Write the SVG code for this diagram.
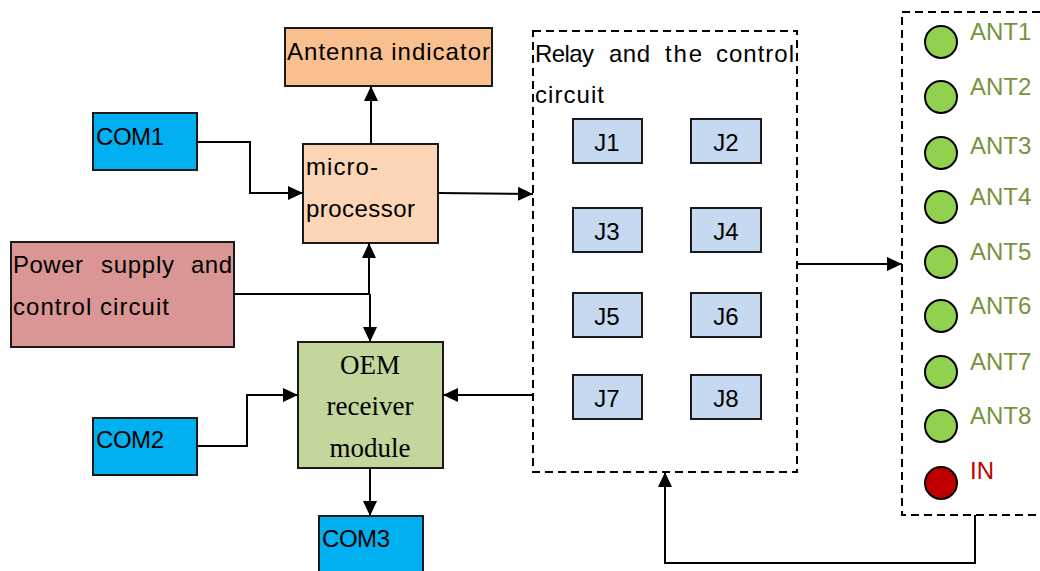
<svg xmlns="http://www.w3.org/2000/svg" width="1040" height="571" viewBox="0 0 1040 571">
<defs>
<marker id="arr" markerUnits="userSpaceOnUse" markerWidth="16" markerHeight="14" refX="15" refY="7" orient="auto">
<path d="M0,0 L15,7 L0,14 z" fill="#000"/>
</marker>
<style>
.box{stroke:#1a1a1a;stroke-width:2}
.t{font-family:"Liberation Sans",Arial,sans-serif;font-size:24px;fill:#000}
.s{font-family:"Liberation Serif","Times New Roman",serif;font-size:27px;fill:#000;text-anchor:middle}
.j{fill:#C6D9F1}
.jt{font-family:"Liberation Sans",Arial,sans-serif;font-size:24px;fill:#000;text-anchor:middle}
.dash{fill:none;stroke:#000;stroke-width:2;stroke-dasharray:8,5}
.led{stroke:#000;stroke-width:2}
.ant{font-family:"Liberation Sans",Arial,sans-serif;font-size:24px;fill:#77933C}
.c{fill:none;stroke:#000;stroke-width:2}
</style>
</defs>
<rect width="1040" height="571" fill="#fff"/>

<g id="antenna-indicator">
<rect class="box" x="285" y="28" width="207" height="58" fill="#F9BF8F"/>
<text class="t" x="287" y="60" textLength="203">Antenna indicator</text>
</g>

<g id="com1">
<rect class="box" x="93" y="113" width="104" height="57" fill="#00B0F0"/>
<text class="t" x="96" y="145" textLength="68">COM1</text>
</g>

<g id="microprocessor">
<rect class="box" x="303" y="144" width="135" height="99" fill="#FBD5B5"/>
<text class="t" x="306" y="175" textLength="72">micro-</text>
<text class="t" x="306" y="217" textLength="109">processor</text>
</g>

<g id="power">
<rect class="box" x="11" y="242" width="223" height="105" fill="#D99694"/>
<text class="t" y="273"><tspan x="13" textLength="70">Power</tspan><tspan x="101" textLength="73">supply</tspan><tspan x="191" textLength="41">and</tspan></text>
<text class="t" x="13" y="315" textLength="156">control circuit</text>
</g>

<g id="oem">
<rect class="box" x="298" y="342" width="145" height="126" fill="#C3D69B"/>
<text class="s" x="370" y="374">OEM</text>
<text class="s" x="370" y="415">receiver</text>
<text class="s" x="370" y="457">module</text>
</g>

<g id="com2">
<rect class="box" x="93" y="418" width="104" height="57" fill="#00B0F0"/>
<text class="t" x="96" y="448" textLength="68">COM2</text>
</g>

<g id="com3">
<rect class="box" x="319" y="516" width="104" height="60" fill="#00B0F0"/>
<text class="t" x="322" y="547" textLength="68">COM3</text>
</g>

<g id="relay">
<rect class="dash" x="533" y="31" width="264" height="441"/>
<text class="t" y="62"><tspan x="535" textLength="59">Relay</tspan><tspan x="609" textLength="41">and</tspan><tspan x="665" textLength="37">the</tspan><tspan x="716" textLength="78">control</tspan></text>
<text class="t" x="535" y="103" textLength="69">circuit</text>
<g id="J1"><rect class="box j" x="573" y="119" width="69" height="44"/><text class="jt" x="607" y="151">J1</text></g>
<g id="J2"><rect class="box j" x="691" y="119" width="70" height="44"/><text class="jt" x="726" y="151">J2</text></g>
<g id="J3"><rect class="box j" x="573" y="208" width="69" height="44"/><text class="jt" x="607" y="240">J3</text></g>
<g id="J4"><rect class="box j" x="691" y="208" width="70" height="44"/><text class="jt" x="726" y="240">J4</text></g>
<g id="J5"><rect class="box j" x="573" y="293" width="69" height="44"/><text class="jt" x="607" y="325">J5</text></g>
<g id="J6"><rect class="box j" x="691" y="293" width="70" height="44"/><text class="jt" x="726" y="325">J6</text></g>
<g id="J7"><rect class="box j" x="573" y="375" width="69" height="44"/><text class="jt" x="607" y="407">J7</text></g>
<g id="J8"><rect class="box j" x="691" y="375" width="70" height="44"/><text class="jt" x="726" y="407">J8</text></g>
</g>

<g id="antenna-panel">
<rect class="dash" x="902" y="12" width="160" height="503"/>
<circle class="led" cx="941" cy="42" r="16" fill="#92D050"/>
<circle class="led" cx="941" cy="97" r="16" fill="#92D050"/>
<circle class="led" cx="941" cy="153" r="16" fill="#92D050"/>
<circle class="led" cx="941" cy="207" r="16" fill="#92D050"/>
<circle class="led" cx="941" cy="262" r="16" fill="#92D050"/>
<circle class="led" cx="941" cy="316" r="16" fill="#92D050"/>
<circle class="led" cx="941" cy="372" r="16" fill="#92D050"/>
<circle class="led" cx="941" cy="426" r="16" fill="#92D050"/>
<circle class="led" cx="941" cy="483" r="16" fill="#C00000"/>
<text class="ant" x="970" y="40">ANT1</text>
<text class="ant" x="970" y="95">ANT2</text>
<text class="ant" x="970" y="154">ANT3</text>
<text class="ant" x="970" y="205">ANT4</text>
<text class="ant" x="970" y="260">ANT5</text>
<text class="ant" x="970" y="314">ANT6</text>
<text class="ant" x="970" y="370">ANT7</text>
<text class="ant" x="970" y="424">ANT8</text>
<text class="ant" x="970" y="479" style="fill:#C00000">IN</text>
</g>

<g id="connectors">
<polyline class="c" points="197,142 250,142 250,193 303,193" marker-end="url(#arr)"/>
<line class="c" x1="371" y1="144" x2="371" y2="86" marker-end="url(#arr)"/>
<line class="c" x1="438" y1="193" x2="533" y2="194" marker-end="url(#arr)"/>
<line class="c" x1="234" y1="294" x2="370" y2="294"/>
<line class="c" x1="369" y1="294" x2="369" y2="243" marker-end="url(#arr)"/>
<line class="c" x1="370" y1="294" x2="370" y2="342" marker-end="url(#arr)"/>
<polyline class="c" points="197,446 247,446 247,395 298,395" marker-end="url(#arr)"/>
<line class="c" x1="533" y1="395" x2="443" y2="395" marker-end="url(#arr)"/>
<line class="c" x1="370" y1="468" x2="370" y2="516" marker-end="url(#arr)"/>
<line class="c" x1="797" y1="264" x2="902" y2="264" marker-end="url(#arr)"/>
<polyline class="c" points="975,515 975,563 665,563 665,472" marker-end="url(#arr)"/>
</g>
</svg>
